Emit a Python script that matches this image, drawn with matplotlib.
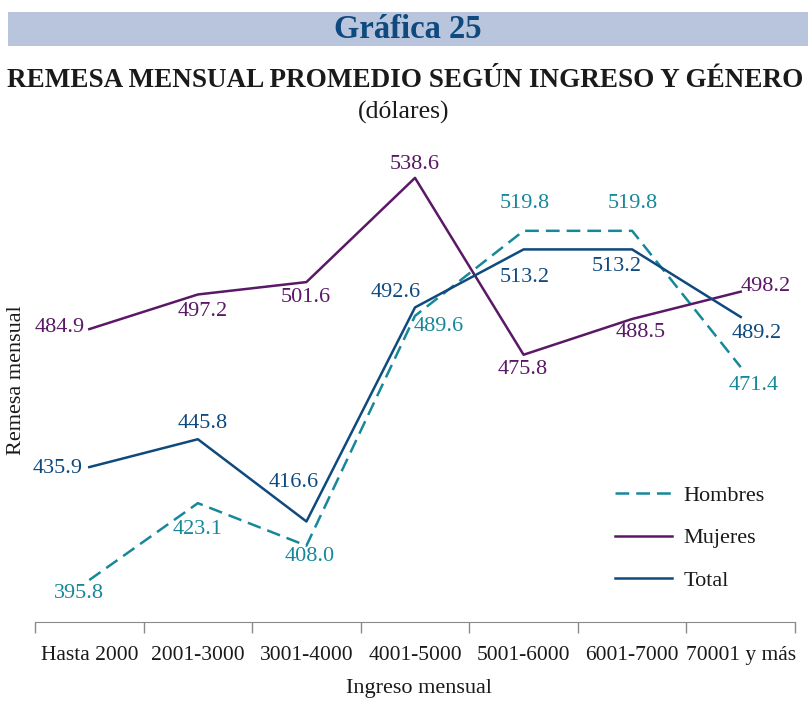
import matplotlib
matplotlib.use("Agg")
import matplotlib.pyplot as plt
from matplotlib.patches import Rectangle
from matplotlib.lines import Line2D

plt.rcParams["font.family"] = ["Liberation Serif", "DejaVu Serif"]

TEAL = "#17889a"
PURPLE = "#5a1866"
NAVY = "#0e4a7e"
BAND = "#b9c5dd"
TXT = "#1a1a1a"
W, H = 808, 715

categorias = ["Hasta 2000", "2001-3000", "3001-4000", "4001-5000",
              "5001-6000", "6001-7000", "70001 y más"]
hombres = [395.8, 423.1, 408.0, 489.6, 519.8, 519.8, 471.4]
mujeres = [484.9, 497.2, 501.6, 538.6, 475.8, 488.5, 498.2]
total = [435.9, 445.8, 416.6, 492.6, 513.2, 513.2, 489.2]

# decalage des etiquettes en pixels (dx, dy vers le haut)
OFF_H = [(-10, -13), (0, -26), (3, -11), (24, -11), (1, 27), (1, 27), (13, -18)]
OFF_M = [(-30, 2), (5, -17), (-1, -15), (0, 13), (-1, -15), (9, -14), (25, 5)]
OFF_T = [(-32, -1), (5, 16), (-13, 39), (-19, 15), (1, -28), (-15, -17), (16, -16)]


def fy(px):
    # pixel depuis le haut -> fraction de figure
    return 1 - px / H


fig = plt.figure(figsize=(W / 100, H / 100), dpi=100)
fig.patches.append(Rectangle((8 / W, fy(46)), 800 / W, 34 / H,
                             transform=fig.transFigure, fc=BAND, ec="none"))
fig.text(408 / W, fy(38), "Gráfica 25", ha="center", va="baseline",
         fontsize=23.5, fontweight="bold", color=NAVY)
fig.text(405 / W, fy(87), "REMESA MENSUAL PROMEDIO SEGÚN INGRESO Y GÉNERO",
         ha="center", va="baseline", fontsize=19.5, fontweight="bold", color=TXT)
fig.text(404 / W, fy(119), "(dólares)", ha="center", va="baseline",
         fontsize=18.5, color=TXT)

ax = fig.add_axes([35 / W, fy(622), 760 / W, (622 - 150) / H])
x = list(range(len(categorias)))
dash = (0, (5.5, 2.8))
ax.plot(x, hombres, color=TEAL, lw=1.8, ls=dash)
ax.plot(x, mujeres, color=PURPLE, lw=1.8)
ax.plot(x, total, color=NAVY, lw=1.8)

for vals, offs, col in ((hombres, OFF_H, TEAL), (mujeres, OFF_M, PURPLE), (total, OFF_T, NAVY)):
    for i, (v, (dx, dy)) in enumerate(zip(vals, offs)):
        ax.annotate(f"{v:.1f}", (i, v), xytext=(dx, dy), textcoords="offset pixels",
                    ha="center", va="center", fontsize=16, color=col)

ax.set_xlim(-0.5, len(categorias) - 0.5)
ax.set_ylim(380.9, 548.5)
ax.set_xticks([i - 0.5 for i in range(len(categorias) + 1)])
ax.set_xticklabels([])
ax.set_xticks(x, minor=True)
ax.set_xticklabels(categorias, minor=True, fontsize=15.5, color=TXT)
ax.tick_params(axis="x", which="major", length=8, width=1, color="#8a8a8a", direction="out")
ax.tick_params(axis="x", which="minor", length=0, pad=17)
ax.set_yticks([])
for s in ("top", "right", "left"):
    ax.spines[s].set_visible(False)
ax.spines["bottom"].set_color("#8a8a8a")

fig.text(419 / W, fy(688), "Ingreso mensual", ha="center", va="center",
         fontsize=16, color=TXT)
fig.text(17 / W, fy(380), "Remesa mensual", ha="center", va="center",
         rotation=90, fontsize=16, color=TXT)

handles = [Line2D([], [], color=TEAL, lw=1.8, ls=dash),
           Line2D([], [], color=PURPLE, lw=1.8),
           Line2D([], [], color=NAVY, lw=1.8)]
fig.legend(handles, ["Hombres", "Mujeres", "Total"], loc="upper left",
           bbox_to_anchor=(615 / W, fy(485)), frameon=False, fontsize=16,
           borderpad=0, borderaxespad=0, handlelength=2.57, handletextpad=0.5,
           labelspacing=1.0, labelcolor=TXT)

fig.savefig("out.png", dpi=100, facecolor="white")
